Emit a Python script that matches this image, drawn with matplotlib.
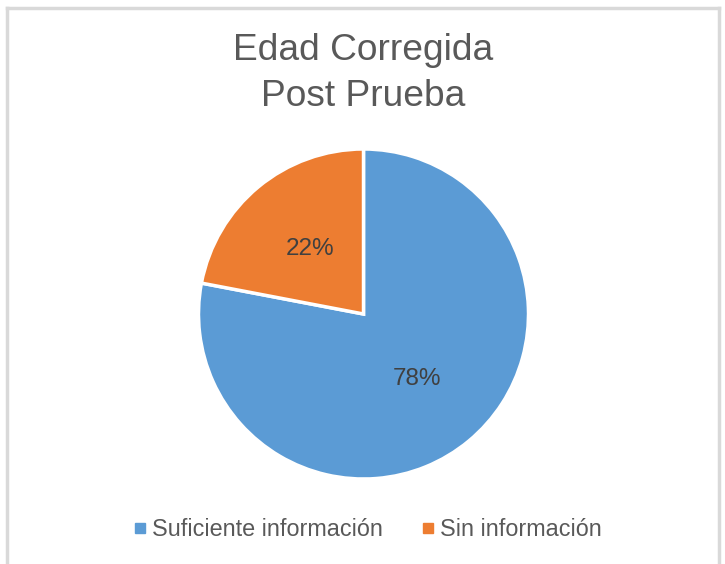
import matplotlib
matplotlib.use("Agg")
import matplotlib.pyplot as plt
from matplotlib.lines import Line2D

plt.rcParams['font.family'] = ['Liberation Sans', 'DejaVu Sans']

title_lines = ["Edad Corregida", "Post Prueba"]
categories = ["Suficiente información", "Sin información"]
values = [78, 22]
colors = ["#5B9BD5", "#ED7D31"]
text_color = "#595959"

W, H = 725, 564
fig = plt.figure(figsize=(W / 100, H / 100), dpi=100)
fig.patch.set_facecolor("white")

# frame lines (left, top, right)
border = "#D9D9D9"
fig.add_artist(Line2D([6.5 / W, 6.5 / W], [0, 1 - 8 / H], color=border, lw=2.5, transform=fig.transFigure))
fig.add_artist(Line2D([6.5 / W, 719 / W], [1 - 8 / H, 1 - 8 / H], color=border, lw=2.5, transform=fig.transFigure))
fig.add_artist(Line2D([719 / W, 719 / W], [0, 1 - 8 / H], color=border, lw=2.5, transform=fig.transFigure))

cx, cy, r = 363.5, 314, 165
ax = fig.add_axes([(cx - r) / W, (H - cy - r) / H, 2 * r / W, 2 * r / H])
wedges, texts, autotexts = ax.pie(
    values, colors=colors, startangle=90, counterclock=False,
    autopct=lambda p: f"{p:.0f}%", pctdistance=0.51,
    wedgeprops=dict(edgecolor="white", linewidth=2.5),
    textprops=dict(color="#404040", fontsize=17.5),
)
ax.set_xlim(-1, 1)
ax.set_ylim(-1, 1)

fig.text(cx / W, 1 - 50 / H, title_lines[0], ha="center", va="center", fontsize=26.7, color=text_color)
fig.text(cx / W, 1 - 97 / H, title_lines[1], ha="center", va="center", fontsize=26.7, color=text_color)

handles = [Line2D([], [], marker="s", linestyle="none", markersize=7, markerfacecolor=c, markeredgecolor=c) for c in colors]
fig.legend(handles, categories, loc="center", bbox_to_anchor=(365 / W, 1 - 530 / H), ncol=2,
           frameon=False, fontsize=16.8, labelcolor=text_color, handletextpad=0.0, columnspacing=1.45,
           handlelength=1.0)

fig.savefig("out.png", dpi=100)
